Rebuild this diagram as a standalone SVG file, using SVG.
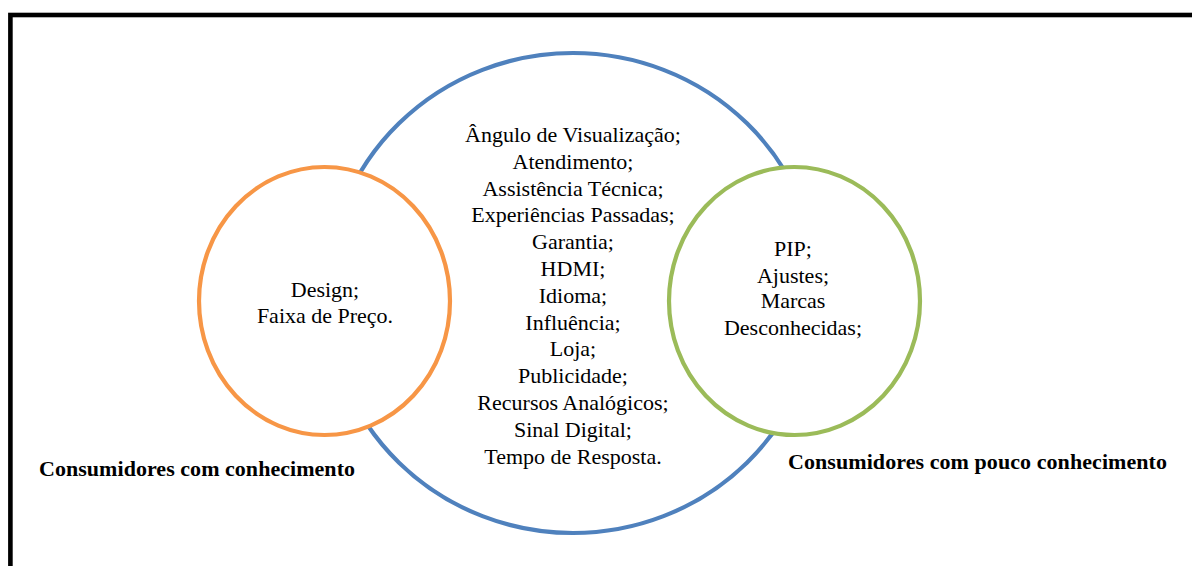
<svg xmlns="http://www.w3.org/2000/svg" width="1192" height="566" viewBox="0 0 1192 566">
<style>
.t{font-family:'Liberation Serif','DejaVu Serif',serif;font-size:22px;fill:#000;text-anchor:middle}
.b{font-family:'Liberation Serif','DejaVu Serif',serif;font-size:22px;font-weight:bold;fill:#000}
.c{stroke-width:4.2;fill:#fff}
</style>
<rect width="1192" height="566" fill="#fff"/>
<rect x="10.4" y="15" width="1300" height="700" fill="none" stroke="#000" stroke-width="4.6"/>
<g id="connectors"></g>
<g id="center">
<ellipse cx="573" cy="293" rx="246" ry="240" class="c" stroke="#4F81BD"/>
<text class="t" x="573" y="142">Ângulo de Visualização;</text>
<text class="t" x="573" y="168.8">Atendimento;</text>
<text class="t" x="573" y="195.6">Assistência Técnica;</text>
<text class="t" x="573" y="222.4">Experiências Passadas;</text>
<text class="t" x="573" y="249.2">Garantia;</text>
<text class="t" x="573" y="276">HDMI;</text>
<text class="t" x="573" y="302.8">Idioma;</text>
<text class="t" x="573" y="329.6">Influência;</text>
<text class="t" x="573" y="356.4">Loja;</text>
<text class="t" x="573" y="383.2">Publicidade;</text>
<text class="t" x="573" y="410">Recursos Analógicos;</text>
<text class="t" x="573" y="436.8">Sinal Digital;</text>
<text class="t" x="573" y="463.6">Tempo de Resposta.</text>
</g>
<g id="left">
<ellipse cx="324.5" cy="301" rx="125.5" ry="134" class="c" stroke="#F79646"/>
<text class="t" x="325" y="296.7">Design;</text>
<text class="t" x="325" y="323.3">Faixa de Preço.</text>
</g>
<g id="right">
<ellipse cx="794.5" cy="301" rx="125.5" ry="134" class="c" stroke="#9BBB59"/>
<text class="t" x="793" y="256">PIP;</text>
<text class="t" x="793" y="282.7">Ajustes;</text>
<text class="t" x="793" y="308.3">Marcas</text>
<text class="t" x="793" y="335">Desconhecidas;</text>
</g>
<g id="label-left">
<text class="b" x="39" y="476" textLength="316" lengthAdjust="spacing">Consumidores com conhecimento</text>
</g>
<g id="label-right">
<text class="b" x="788" y="469" textLength="379" lengthAdjust="spacing">Consumidores com pouco conhecimento</text>
</g>
</svg>
